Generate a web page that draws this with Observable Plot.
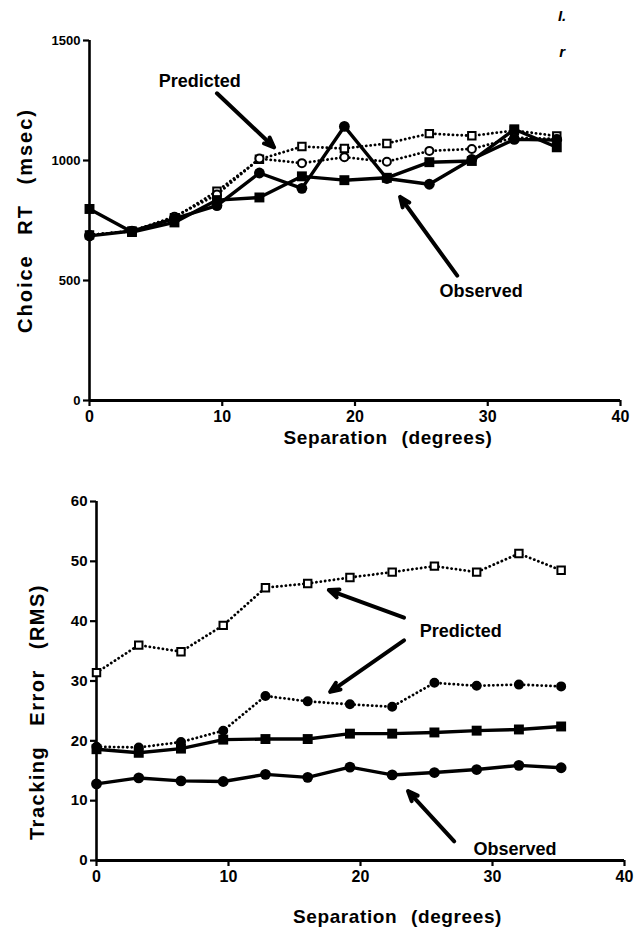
<!DOCTYPE html>
<html>
<head>
<meta charset="utf-8">
<script src="https://cdn.jsdelivr.net/npm/d3@7"></script>
<script src="https://cdn.jsdelivr.net/npm/@observablehq/plot@0.6"></script>
<style>
  html, body { margin: 0; padding: 0; background: #fff; }
  #chart svg { display: block; }
</style>
</head>
<body>
<div id="chart"></div>
<script>
// ---------- data ----------
const sep = [0, 3.2, 6.4, 9.6, 12.8, 16, 19.2, 22.4, 25.6, 28.8, 32, 35.2];

// Top panel: Choice RT (msec)
const rtObsSquare  = [798, 702, 742, 835, 846, 934, 918, 928, 993, 998, 1130, 1055];
const rtObsCircle  = [686, 706, 758, 812, 948, 884, 1142, 925, 901, 1005, 1088, 1085];
const rtPredSquare = [690, 706, 762, 872, 1005, 1058, 1050, 1071, 1112, 1103, 1125, 1102];
const rtPredCircle = [690, 706, 766, 858, 1008, 989, 1014, 995, 1040, 1048, 1095, 1090];

// Bottom panel: Tracking Error (RMS)
const errObsSquare  = [18.6, 18.0, 18.7, 20.2, 20.3, 20.3, 21.2, 21.2, 21.4, 21.7, 21.9, 22.4];
const errObsCircle  = [12.8, 13.8, 13.3, 13.2, 14.4, 13.9, 15.6, 14.3, 14.7, 15.2, 15.9, 15.5];
const errPredSquare = [31.4, 36.0, 34.9, 39.3, 45.6, 46.3, 47.3, 48.2, 49.2, 48.2, 51.3, 48.5];
const errPredCircle = [19.0, 18.9, 19.8, 21.7, 27.5, 26.6, 26.1, 25.7, 29.7, 29.2, 29.4, 29.1];

// tick labels
const sepTicks = [0, 10, 20, 30, 40];
const rtTicks = [0, 500, 1000, 1500];
const errTicks = [0, 10, 20, 30, 40, 50, 60];

// axis titles
const xTitle = "Separation (degrees)";
const rtTitle = "Choice RT (msec)";
const errTitle = "Tracking Error (RMS)";

// annotations (data coordinates)
const rtNotes = [
  {x: 8.3, y: 1330, label: "Predicted"},
  {x: 29.5, y: 455, label: "Observed"}
];
const rtArrows = [
  {x1: 9.6, y1: 1280, x2: 13.9, y2: 1055},
  {x1: 27.7, y1: 520, x2: 23.4, y2: 848}
];
const rtMarks = [
  {x: 35.6, y: 1600, label: "I."},
  {x: 35.6, y: 1450, label: "r"}
];
const errNotes = [
  {x: 27.6, y: 38.4, label: "Predicted"},
  {x: 31.7, y: 1.8, label: "Observed"}
];
const errArrows = [
  {x1: 23.3, y1: 40.6, x2: 17.6, y2: 45.2},
  {x1: 23.3, y1: 36.8, x2: 17.7, y2: 28.2},
  {x1: 27.1, y1: 3.2, x2: 23.6, y2: 11.6}
];

// ---------- helpers ----------
const rows = (ys) => sep.map((s, i) => ({x: s, y: ys[i]}));
const FONT = "'Liberation Sans', Arial, Helvetica, sans-serif";

function panel({width, height, mL, mR, mT, mB, yDomain, yTicks, yFont,
                obsSq, obsCi, predSq, predCi, predCircleFill, notes, arrows, extra,
                yTitle, yTitleDx, yTitleDy, xTitleDx, xTitleDy, yTitleLS, yTitleWS}) {
  const dotted = {x: "x", y: "y", stroke: "black", strokeWidth: 2.8,
                  strokeDasharray: "0.1,4.3", strokeLinecap: "round"};
  const solid = {x: "x", y: "y", stroke: "black", strokeWidth: 3.4, strokeLinejoin: "round"};
  const marks = [
    Plot.axisY({ticks: yTicks, tickFormat: d => String(d), tickSize: 6, tickPadding: 3, strokeWidth: 2.2,
                fontSize: yFont, fontWeight: "bold", label: null}),
    Plot.axisX({ticks: sepTicks, tickFormat: d => String(d), tickSize: 6, tickPadding: 4, strokeWidth: 2.2,
                fontSize: 16, fontWeight: "bold", label: null}),
    Plot.ruleX([0], {y1: yDomain[0], y2: yDomain[1], strokeWidth: 2.6}),
    Plot.ruleY([0], {x1: 0, x2: 40, strokeWidth: 3}),
    Plot.line(rows(predSq), dotted),
    Plot.line(rows(predCi), dotted),
    Plot.line(rows(obsSq), solid),
    Plot.line(rows(obsCi), solid),
    Plot.dot(rows(predSq), {x: "x", y: "y", symbol: "square", r: 4.2, fill: "white", stroke: "black", strokeWidth: 2}),
    Plot.dot(rows(predCi), {x: "x", y: "y", symbol: "circle", r: 4, fill: predCircleFill, stroke: "black", strokeWidth: 2}),
    Plot.dot(rows(obsSq), {x: "x", y: "y", symbol: "square", r: 5.6, fill: "black"}),
    Plot.dot(rows(obsCi), {x: "x", y: "y", symbol: "circle", r: 5.4, fill: "black"}),
    Plot.arrow(arrows, {x1: "x1", y1: "y1", x2: "x2", y2: "y2", stroke: "black", fill: "black",
                        strokeWidth: 4, strokeLinejoin: "miter", headLength: 4, headAngle: 45}),
    Plot.text(notes, {x: "x", y: "y", text: "label", fontSize: 18, fontWeight: "bold", fill: "black"}),
    Plot.text([xTitle], {frameAnchor: "bottom", dx: xTitleDx, dy: xTitleDy, lineAnchor: "middle",
                         textAnchor: "middle", fontSize: 19, fontWeight: "bold", fill: "black"}),
    Plot.text([yTitle], {frameAnchor: "left", rotate: -90, dx: yTitleDx, dy: yTitleDy,
                         textAnchor: "middle", lineAnchor: "middle", fontSize: 20, fontWeight: "bold", fill: "black"})
  ];
  if (extra) marks.push(Plot.text(extra, {x: "x", y: "y", text: "label", fontSize: 15,
                                          fontWeight: "bold", fontStyle: "italic", fill: "black"}));
  const svg = Plot.plot({
    width, height,
    marginLeft: mL, marginRight: mR, marginTop: mT, marginBottom: mB,
    x: {domain: [0, 40], label: null},
    y: {domain: yDomain, label: null},
    style: {fontFamily: FONT, fontWeight: "bold", color: "black", background: "white", overflow: "visible"},
    marks
  });
  d3.select(svg).selectAll("text").each(function() {
    const t = this.textContent;
    if (t === xTitle) d3.select(this).attr("letter-spacing", 0.6).attr("word-spacing", 8);
    if (t === yTitle) d3.select(this).attr("letter-spacing", yTitleLS).attr("word-spacing", yTitleWS);
  });
  return svg;
}

const topPanel = panel({
  width: 634, height: 470, mL: 89, mR: 14, mT: 40, mB: 70,
  yDomain: [0, 1500], yTicks: rtTicks, yFont: 13,
  obsSq: rtObsSquare, obsCi: rtObsCircle, predSq: rtPredSquare, predCi: rtPredCircle,
  predCircleFill: "white", notes: rtNotes, arrows: rtArrows, extra: rtMarks,
  yTitle: rtTitle, yTitleDx: -64, yTitleDy: 0, xTitleDx: 33, xTitleDy: 37,
  yTitleLS: 2, yTitleWS: 12
});
const bottomPanel = panel({
  width: 634, height: 469, mL: 96, mR: 10, mT: 31, mB: 79,
  yDomain: [0, 60], yTicks: errTicks, yFont: 15,
  obsSq: errObsSquare, obsCi: errObsCircle, predSq: errPredSquare, predCi: errPredCircle,
  predCircleFill: "black", notes: errNotes, arrows: errArrows, extra: null,
  yTitle: errTitle, yTitleDx: -59, yTitleDy: 31, xTitleDx: 37, xTitleDy: 56,
  yTitleLS: 1.5, yTitleWS: 13
});
document.getElementById("chart").append(topPanel, bottomPanel);
</script>
</body>
</html>
